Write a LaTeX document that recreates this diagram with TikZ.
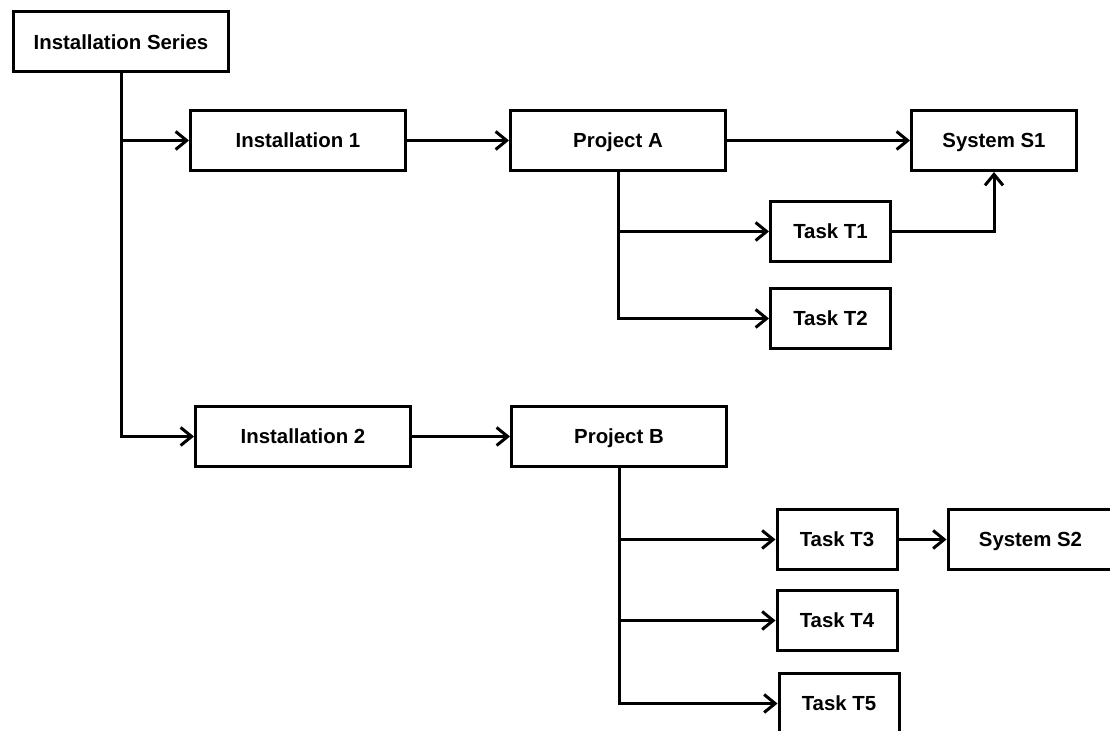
\documentclass[tikz,border=0pt]{standalone}
\usepackage{fontspec}
\setmainfont{Liberation Sans}
\usetikzlibrary{arrows.meta,positioning}

\begin{document}
\begin{tikzpicture}[
  x=0.5pt, y=-0.5pt,
  node distance=24pt,
  box/.style={draw,line width=1.5pt,minimum height=30pt,inner sep=0pt,align=center,
    text height=8.5pt,text depth=1.2pt,font=\fontsize{10.2}{12}\selectfont\bfseries},
  widebox/.style={box,minimum width=107.5pt},
  sysbox/.style={box,minimum width=82.5pt},
  taskbox/.style={box,minimum width=60pt},
  arrow/.style={-{Straight Barb[length=5.5pt,width=9pt]},line width=1.5pt}
]
\useasboundingbox (0,0) rectangle (1110,731);
\node[widebox] (series) at (121,42) {Installation Series};
\node[widebox] (inst1) at (298,140.5) {Installation 1};
\node[widebox,right=51pt of inst1] (projA) {Project A};
\node[sysbox,right=91.5pt of projA] (sysS1) {System S1};
\node[taskbox] (taskT1) at (830.5,231.5) {Task T1};
\node[taskbox] (taskT2) at (830.5,318.5) {Task T2};
\node[widebox] (inst2) at (303,436.5) {Installation 2};
\node[widebox,right=49pt of inst2] (projB) {Project B};
\node[taskbox] (taskT3) at (837,539.5) {Task T3};
\node[sysbox,right=of taskT3] (sysS2) {System S2};
\node[taskbox] (taskT4) at (837,620.5) {Task T4};
\node[taskbox] (taskT5) at (839,703.5) {Task T5};
% series branches
\draw[arrow] (series.south) |- (inst1);
\draw[arrow] (series.south) |- (inst2);
% first installation
\draw[arrow] (inst1) -- (projA);
\draw[arrow] (projA) -- (sysS1);
\draw[arrow] (projA.south) |- (taskT1);
\draw[arrow] (projA.south) |- (taskT2);
\draw[arrow] (taskT1.east) -| (sysS1.south);
% second installation
\draw[arrow] (inst2) -- (projB);
\draw[arrow] (projB.south) |- (taskT3);
\draw[arrow] (projB.south) |- (taskT4);
\draw[arrow] (projB.south) |- (taskT5);
\draw[arrow] (taskT3) -- (sysS2);
\end{tikzpicture}
\end{document}
